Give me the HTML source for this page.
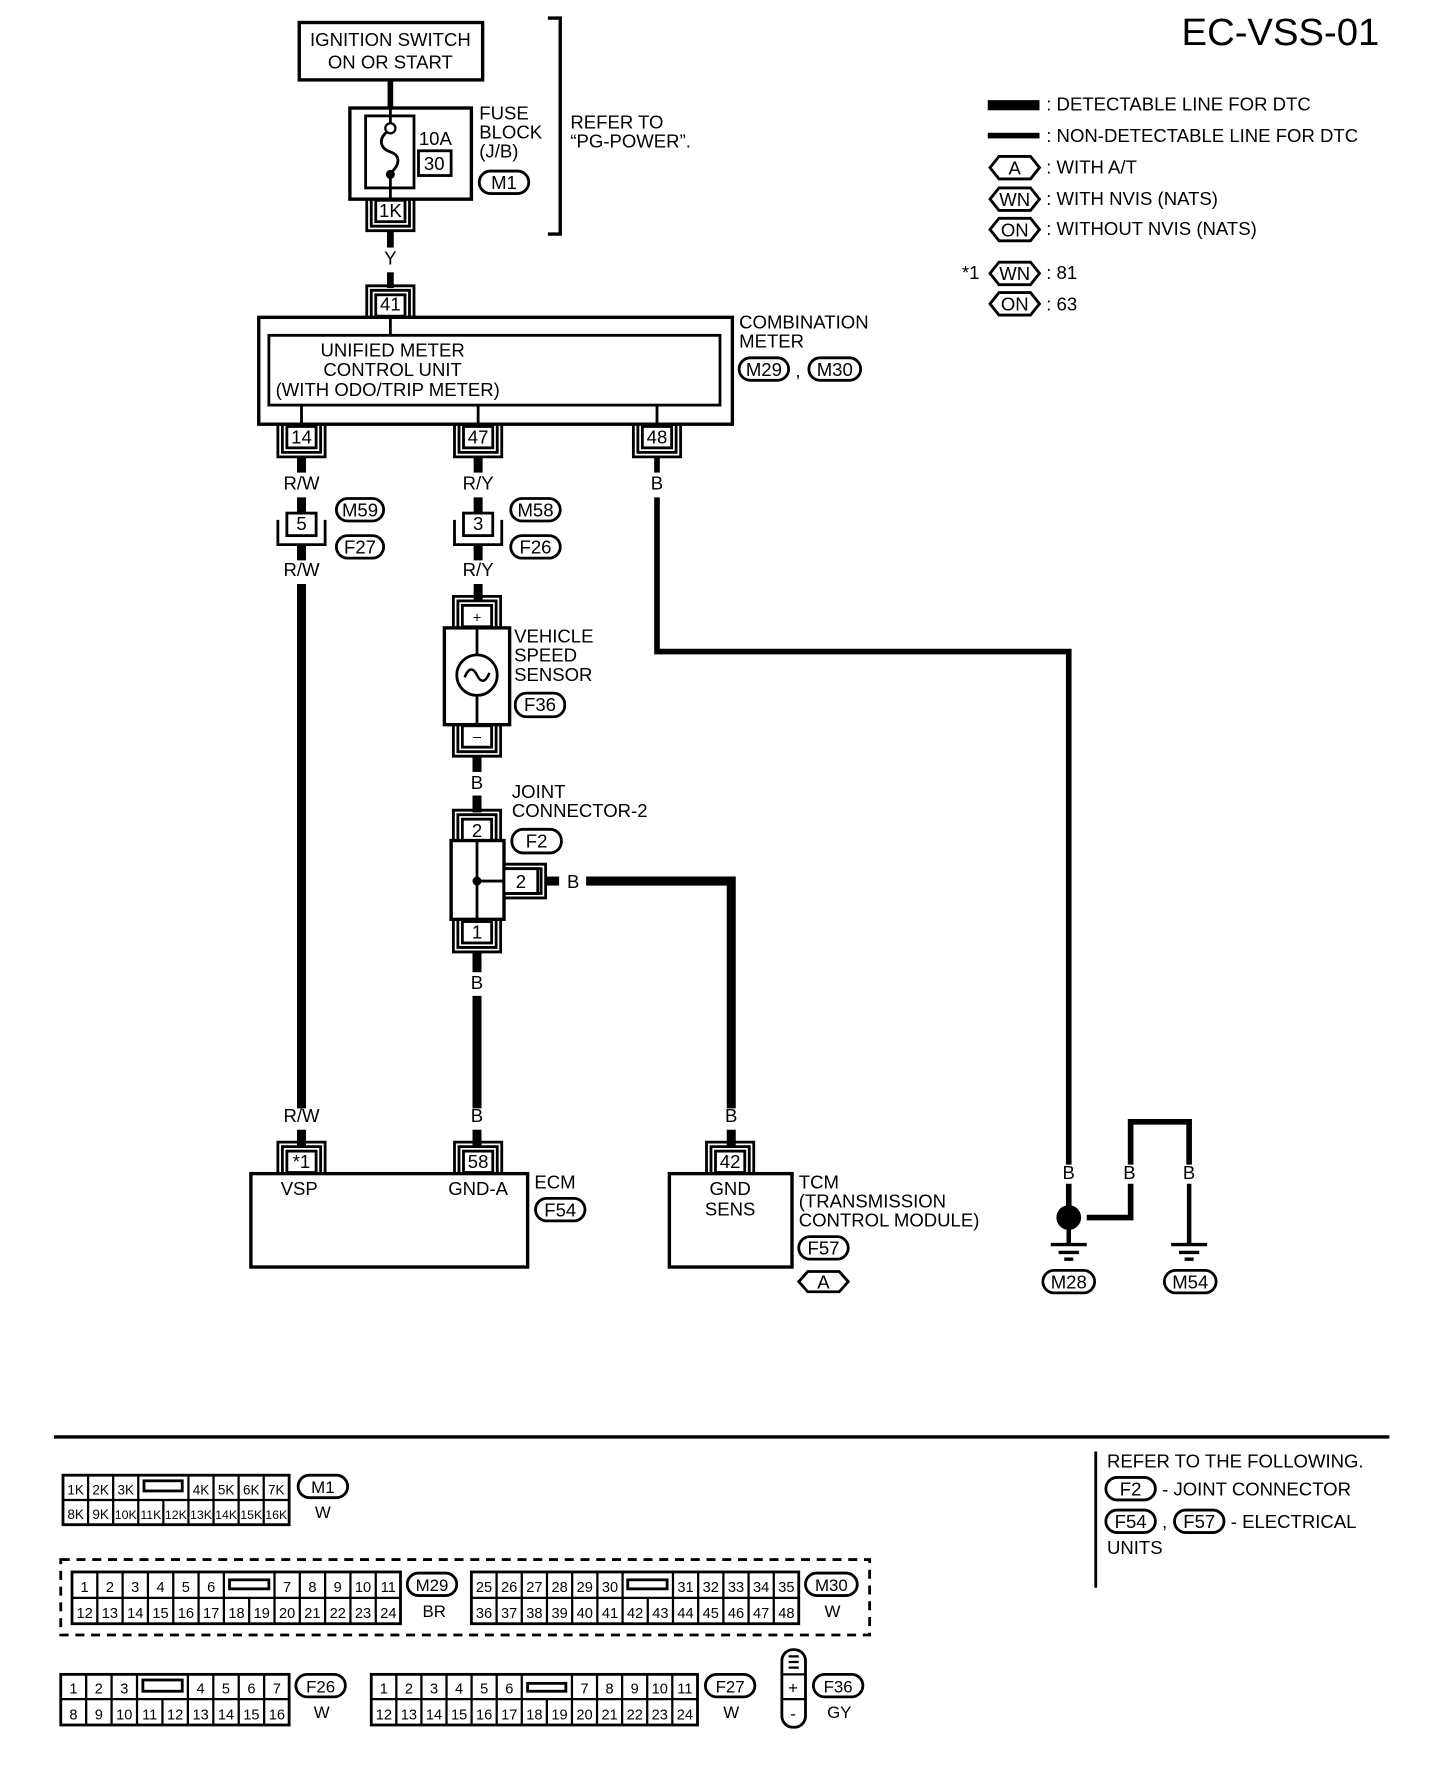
<!DOCTYPE html>
<html><head><meta charset="utf-8"><style>
html,body{margin:0;padding:0;background:#fff;}
svg{display:block;}
text{font-family:"Liberation Sans",sans-serif;fill:#000;}
</style></head><body>
<svg width="1440" height="1770" viewBox="0 0 1280 1573" preserveAspectRatio="none" xmlns="http://www.w3.org/2000/svg">
<defs>
<g id="cd"><path d="M-21 0V28H21V0M-17 0V24H17V0" fill="none" stroke="#000" stroke-width="2.5"/><rect x="-13" y="1" width="26" height="19" fill="#fff" stroke="#000" stroke-width="2.5"/></g>
<g id="cu"><path d="M-21 0V-28H21V0M-17 0V-24H17V0" fill="none" stroke="#000" stroke-width="2.5"/><rect x="-13" y="-20" width="26" height="19" fill="#fff" stroke="#000" stroke-width="2.5"/></g>
</defs>
<g font-size="16.5" text-anchor="middle">
<text x="1226" y="40" font-size="34" text-anchor="end">EC-VSS-01</text>

<!-- ignition -->
<rect x="266" y="20" width="163" height="51" fill="none" stroke="#000" stroke-width="3"/>
<text x="347" y="41">IGNITION SWITCH</text>
<text x="347" y="61">ON OR START</text>
<line x1="347" y1="71" x2="347" y2="96" stroke="#000" stroke-width="5"/>
<rect x="311" y="96" width="108" height="81" fill="none" stroke="#000" stroke-width="3"/>
<rect x="325" y="103" width="43" height="64" fill="none" stroke="#000" stroke-width="2.5"/>
<line x1="347" y1="96" x2="347" y2="109" stroke="#000" stroke-width="2.5"/>
<circle cx="347" cy="114" r="4.5" fill="#fff" stroke="#000" stroke-width="2"/>
<path d="M344 117C336 124 338 132 347 135C356 138 356 146 347 154" fill="none" stroke="#000" stroke-width="2.5"/>
<circle cx="347" cy="155" r="4" fill="#000"/>
<line x1="347" y1="155" x2="347" y2="177" stroke="#000" stroke-width="2.5"/>
<text x="387" y="129">10A</text>
<rect x="372" y="134" width="29" height="22" fill="none" stroke="#000" stroke-width="2.5"/>
<text x="386" y="151">30</text>
<g text-anchor="start"><text x="426" y="106">FUSE</text><text x="426" y="123">BLOCK</text><text x="426" y="140">(J/B)</text>
<text x="507" y="114">REFER TO</text><text x="507" y="131">“PG-POWER”.</text></g>
<rect x="426" y="152" width="44" height="20" rx="10" fill="none" stroke="#000" stroke-width="2.5"/><text x="448" y="168">M1</text>
<path d="M487 16H498V208H487" fill="none" stroke="#000" stroke-width="3"/>
<use href="#cd" x="347" y="177"/><text x="347" y="193">1K</text>
<line x1="347" y1="205" x2="347" y2="220" stroke="#000" stroke-width="6"/>
<text x="347" y="235">Y</text>
<line x1="347" y1="242" x2="347" y2="256" stroke="#000" stroke-width="6"/>
<use href="#cu" x="347" y="282"/><text x="347" y="276">41</text>

<!-- combination meter -->
<rect x="230" y="282" width="421" height="95" fill="none" stroke="#000" stroke-width="3"/>
<rect x="239" y="298" width="401" height="62" fill="none" stroke="#000" stroke-width="2.5"/>
<path d="M347 282V298M268 360V377M425 360V377M584 360V377" stroke="#000" stroke-width="2.5"/>
<text x="349" y="317">UNIFIED METER</text>
<text x="349" y="334">CONTROL UNIT</text>
<text x="245" y="352" text-anchor="start">(WITH ODO/TRIP METER)</text>
<g text-anchor="start"><text x="657" y="292">COMBINATION</text><text x="657" y="309">METER</text><text x="707" y="335">,</text></g>
<rect x="657" y="318" width="44" height="20" rx="10" fill="none" stroke="#000" stroke-width="2.5"/><text x="679" y="334">M29</text>
<rect x="719" y="318" width="46" height="20" rx="10" fill="none" stroke="#000" stroke-width="2.5"/><text x="742" y="334">M30</text>
<use href="#cd" x="268" y="378"/><text x="268" y="394">14</text>
<use href="#cd" x="425" y="378"/><text x="425" y="394">47</text>
<use href="#cd" x="584" y="378"/><text x="584" y="394">48</text>

<!-- 14 path -->
<line x1="268" y1="406" x2="268" y2="420" stroke="#000" stroke-width="8"/>
<text x="268" y="435">R/W</text>
<line x1="268" y1="442" x2="268" y2="457" stroke="#000" stroke-width="8"/>
<path d="M247 462V484H289V462" fill="none" stroke="#000" stroke-width="2.5"/>
<rect x="255" y="456" width="26" height="20" fill="#fff" stroke="#000" stroke-width="2.5"/><text x="268" y="471">5</text>
<rect x="299" y="443" width="42" height="20" rx="10" fill="none" stroke="#000" stroke-width="2.5"/><text x="320" y="459">M59</text>
<rect x="299" y="476" width="42" height="20" rx="10" fill="none" stroke="#000" stroke-width="2.5"/><text x="320" y="492">F27</text>
<line x1="268" y1="484" x2="268" y2="498" stroke="#000" stroke-width="8"/>
<text x="268" y="512">R/W</text>
<line x1="268" y1="519" x2="268" y2="985" stroke="#000" stroke-width="8"/>
<text x="268" y="997">R/W</text>
<line x1="268" y1="1004" x2="268" y2="1018" stroke="#000" stroke-width="8"/>

<!-- 47 path -->
<line x1="425" y1="406" x2="425" y2="420" stroke="#000" stroke-width="8"/>
<text x="425" y="435">R/Y</text>
<line x1="425" y1="442" x2="425" y2="457" stroke="#000" stroke-width="8"/>
<path d="M404 462V484H446V462" fill="none" stroke="#000" stroke-width="2.5"/>
<rect x="412" y="456" width="26" height="20" fill="#fff" stroke="#000" stroke-width="2.5"/><text x="425" y="471">3</text>
<rect x="454" y="443" width="44" height="20" rx="10" fill="none" stroke="#000" stroke-width="2.5"/><text x="476" y="459">M58</text>
<rect x="454" y="476" width="44" height="20" rx="10" fill="none" stroke="#000" stroke-width="2.5"/><text x="476" y="492">F26</text>
<line x1="425" y1="484" x2="425" y2="498" stroke="#000" stroke-width="8"/>
<text x="425" y="512">R/Y</text>
<line x1="425" y1="519" x2="425" y2="533" stroke="#000" stroke-width="8"/>
<use href="#cu" x="424" y="558"/><text x="424" y="553" font-size="13">+</text>
<rect x="395" y="558" width="58" height="86" fill="#fff" stroke="#000" stroke-width="3"/>
<path d="M424 558V582M424 618V644" stroke="#000" stroke-width="2.5"/>
<circle cx="424" cy="600" r="18" fill="none" stroke="#000" stroke-width="2.5"/>
<path d="M413 602C417 592 421 594 424 600C427 606 431 608 435 598" fill="none" stroke="#000" stroke-width="2.2"/>
<use href="#cd" x="424" y="644"/><text x="424" y="659" font-size="13">–</text>
<g text-anchor="start"><text x="457" y="571">VEHICLE</text><text x="457" y="588">SPEED</text><text x="457" y="605">SENSOR</text>
<text x="455" y="709">JOINT</text><text x="455" y="726">CONNECTOR-2</text>
<text x="504" y="789">B</text></g>
<rect x="458" y="616" width="44" height="21" rx="10" fill="none" stroke="#000" stroke-width="2.5"/><text x="480" y="632">F36</text>
<line x1="424" y1="672" x2="424" y2="686" stroke="#000" stroke-width="8"/>
<text x="424" y="701">B</text>
<line x1="424" y1="707" x2="424" y2="722" stroke="#000" stroke-width="8"/>
<use href="#cu" x="424" y="748"/><text x="424" y="744">2</text>
<rect x="401" y="747" width="47" height="70" fill="#fff" stroke="#000" stroke-width="3"/>
<path d="M424 747V817M424 783H448" stroke="#000" stroke-width="2.5"/>
<circle cx="424" cy="783" r="4" fill="#000"/>
<path d="M448 768H485V798H448M448 772H481V794H448" fill="none" stroke="#000" stroke-width="2.5"/>
<rect x="448" y="772" width="30" height="22" fill="#fff" stroke="#000" stroke-width="2.5"/><text x="463" y="789">2</text>
<line x1="485" y1="783" x2="497" y2="783" stroke="#000" stroke-width="8"/>
<rect x="455" y="737" width="44" height="21" rx="10" fill="none" stroke="#000" stroke-width="2.5"/><text x="477" y="753">F2</text>
<path d="M521 783H650V985" fill="none" stroke="#000" stroke-width="8"/>
<use href="#cd" x="424" y="818"/><text x="424" y="834">1</text>
<line x1="424" y1="846" x2="424" y2="864" stroke="#000" stroke-width="8"/>
<text x="424" y="879">B</text>
<line x1="424" y1="885" x2="424" y2="985" stroke="#000" stroke-width="8"/>
<text x="424" y="997">B</text>
<line x1="424" y1="1004" x2="424" y2="1018" stroke="#000" stroke-width="8"/>
<text x="650" y="997">B</text>
<line x1="650" y1="1004" x2="650" y2="1018" stroke="#000" stroke-width="8"/>

<!-- 48 path -->
<line x1="584" y1="406" x2="584" y2="420" stroke="#000" stroke-width="5"/>
<text x="584" y="435">B</text>
<path d="M584 442V579H950V1035" fill="none" stroke="#000" stroke-width="5"/>

<!-- ECM -->
<rect x="223" y="1043" width="246" height="83" fill="none" stroke="#000" stroke-width="3"/>
<use href="#cu" x="268" y="1043"/><text x="268" y="1038">*1</text>
<use href="#cu" x="425" y="1043"/><text x="425" y="1038">58</text>
<text x="266" y="1062">VSP</text><text x="425" y="1062">GND-A</text>
<text x="475" y="1056" text-anchor="start">ECM</text>
<rect x="476" y="1065" width="44" height="20" rx="10" fill="none" stroke="#000" stroke-width="2.5"/><text x="498" y="1081">F54</text>
<!-- TCM -->
<rect x="595" y="1043" width="109" height="83" fill="none" stroke="#000" stroke-width="3"/>
<use href="#cu" x="649" y="1043"/><text x="649" y="1038">42</text>
<text x="649" y="1062">GND</text><text x="649" y="1080">SENS</text>
<g text-anchor="start"><text x="710" y="1056">TCM</text><text x="710" y="1073">(TRANSMISSION</text><text x="710" y="1090">CONTROL MODULE)</text></g>
<rect x="710" y="1099" width="44" height="20" rx="10" fill="none" stroke="#000" stroke-width="2.5"/><text x="732" y="1115">F57</text>
<path d="M718 1130H746L754 1139L746 1148H718L710 1139Z" fill="none" stroke="#000" stroke-width="2.5"/><text x="732" y="1145">A</text>

<!-- grounds -->
<text x="950" y="1048">B</text><text x="1004" y="1048">B</text><text x="1057" y="1048">B</text>
<line x1="950" y1="1052" x2="950" y2="1072" stroke="#000" stroke-width="5"/>
<circle cx="950" cy="1082" r="11" fill="#000"/>
<path d="M966 1082H1005V1052" fill="none" stroke="#000" stroke-width="5"/>
<path d="M1005 1035V997H1057V1035" fill="none" stroke="#000" stroke-width="5"/>
<line x1="1057" y1="1052" x2="1057" y2="1105" stroke="#000" stroke-width="4"/>
<line x1="950" y1="1092" x2="950" y2="1105" stroke="#000" stroke-width="4"/>
<path d="M934 1106H966M941 1113H959M946 1119H954" stroke="#000" stroke-width="3"/>
<path d="M1041 1106H1073M1048 1113H1066M1053 1119H1061" stroke="#000" stroke-width="3"/>
<rect x="927" y="1129" width="46" height="20" rx="10" fill="none" stroke="#000" stroke-width="2.5"/><text x="950" y="1145">M28</text>
<rect x="1035" y="1129" width="46" height="20" rx="10" fill="none" stroke="#000" stroke-width="2.5"/><text x="1058" y="1145">M54</text>

<!-- legend -->
<rect x="878" y="89" width="46" height="9" fill="#000"/>
<rect x="878" y="118" width="46" height="5" fill="#000"/>
<g text-anchor="start"><text x="930" y="98">: DETECTABLE LINE FOR DTC</text>
<text x="930" y="126">: NON-DETECTABLE LINE FOR DTC</text>
<text x="930" y="154">: WITH A/T</text>
<text x="930" y="182">: WITH NVIS (NATS)</text>
<text x="930" y="209">: WITHOUT NVIS (NATS)</text>
<text x="855" y="248">*1</text>
<text x="930" y="248">: 81</text>
<text x="930" y="276">: 63</text></g>
<path d="M888 139H916L924 149L916 159H888L880 149Z" fill="none" stroke="#000" stroke-width="2.5"/><text x="902" y="155">A</text>
<path d="M888 167H916L924 177L916 187H888L880 177Z" fill="none" stroke="#000" stroke-width="2.5"/><text x="902" y="183">WN</text>
<path d="M888 194H916L924 204L916 214H888L880 204Z" fill="none" stroke="#000" stroke-width="2.5"/><text x="902" y="210">ON</text>
<path d="M888 233H916L924 243L916 253H888L880 243Z" fill="none" stroke="#000" stroke-width="2.5"/><text x="902" y="249">WN</text>
<path d="M888 260H916L924 270L916 280H888L880 270Z" fill="none" stroke="#000" stroke-width="2.5"/><text x="902" y="276">ON</text>

<!-- bottom -->
<line x1="48" y1="1277" x2="1235" y2="1277" stroke="#000" stroke-width="3"/>
<line x1="974" y1="1290" x2="974" y2="1411" stroke="#000" stroke-width="2.5"/>
<g text-anchor="start"><text x="984" y="1304">REFER TO THE FOLLOWING.</text>
<text x="1033" y="1329">- JOINT CONNECTOR</text>
<text x="1033" y="1358">,</text><text x="1094" y="1358">- ELECTRICAL</text>
<text x="984" y="1381">UNITS</text></g>
<rect x="983" y="1313" width="44" height="20" rx="10" fill="none" stroke="#000" stroke-width="2.5"/><text x="1005" y="1329">F2</text>
<rect x="983" y="1342" width="44" height="20" rx="10" fill="none" stroke="#000" stroke-width="2.5"/><text x="1005" y="1358">F54</text>
<rect x="1044" y="1342" width="44" height="20" rx="10" fill="none" stroke="#000" stroke-width="2.5"/><text x="1066" y="1358">F57</text>
</g>

<g font-size="13" text-anchor="middle" stroke="#000" fill="none" stroke-width="2">
<!-- M1 -->
<rect x="56" y="1311" width="201" height="44" stroke-width="2.5"/>
<path d="M56 1333H257M78.3 1311V1355M100.6 1311V1355M122.9 1311V1355M167.5 1311V1355M189.8 1311V1355M212.1 1311V1355M234.4 1311V1355M145.2 1333V1355"/>
<rect x="128" y="1316" width="34" height="9" stroke-width="2.5"/>
<g stroke="none" fill="#000" font-size="12"><text x="67.2" y="1328">1K</text><text x="89.5" y="1328">2K</text><text x="111.8" y="1328">3K</text><text x="178.7" y="1328">4K</text><text x="201" y="1328">5K</text><text x="223.3" y="1328">6K</text><text x="245.6" y="1328">7K</text>
<text x="67.2" y="1350">8K</text><text x="89.5" y="1350">9K</text><text x="111.8" y="1350" font-size="11">10K</text><text x="134.1" y="1350" font-size="11">11K</text><text x="156.4" y="1350" font-size="11">12K</text><text x="178.7" y="1350" font-size="11">13K</text><text x="201" y="1350" font-size="11">14K</text><text x="223.3" y="1350" font-size="11">15K</text><text x="245.6" y="1350" font-size="11">16K</text></g>
<rect x="265" y="1311" width="44" height="20" rx="10" stroke-width="2.5"/>
<g stroke="none" fill="#000" font-size="15"><text x="287" y="1327">M1</text><text x="287" y="1349">W</text></g>

<rect x="54" y="1386" width="719" height="67" stroke-dasharray="8,6" stroke-width="2.5"/>
<!-- M29 -->
<rect x="64" y="1397" width="292" height="46" stroke-width="2.5"/>
<path d="M64 1420H356M86.5 1397V1443M109 1397V1443M131.5 1397V1443M154 1397V1443M176.5 1397V1443M199 1397V1443M244 1397V1443M266.5 1397V1443M289 1397V1443M311.5 1397V1443M334 1397V1443M221.5 1420V1443"/>
<rect x="204" y="1404" width="35" height="8" stroke-width="2.5"/>
<g stroke="none" fill="#000"><text x="75.2" y="1415">1</text><text x="97.7" y="1415">2</text><text x="120.2" y="1415">3</text><text x="142.7" y="1415">4</text><text x="165.2" y="1415">5</text><text x="187.7" y="1415">6</text><text x="255.2" y="1415">7</text><text x="277.7" y="1415">8</text><text x="300.2" y="1415">9</text><text x="322.7" y="1415">10</text><text x="345.2" y="1415">11</text>
<text x="75.2" y="1438">12</text><text x="97.7" y="1438">13</text><text x="120.2" y="1438">14</text><text x="142.7" y="1438">15</text><text x="165.2" y="1438">16</text><text x="187.7" y="1438">17</text><text x="210.2" y="1438">18</text><text x="232.7" y="1438">19</text><text x="255.2" y="1438">20</text><text x="277.7" y="1438">21</text><text x="300.2" y="1438">22</text><text x="322.7" y="1438">23</text><text x="345.2" y="1438">24</text></g>
<rect x="362" y="1398" width="44" height="20" rx="10" stroke-width="2.5"/>
<g stroke="none" fill="#000" font-size="15"><text x="384" y="1414">M29</text><text x="386" y="1437">BR</text></g>
<!-- M30 -->
<rect x="419" y="1397" width="291" height="46" stroke-width="2.5"/>
<path d="M419 1420H710M441.4 1397V1443M463.8 1397V1443M486.2 1397V1443M508.6 1397V1443M531 1397V1443M553.4 1397V1443M598.2 1397V1443M620.6 1397V1443M643 1397V1443M665.4 1397V1443M687.8 1397V1443M575.8 1420V1443"/>
<rect x="558" y="1404" width="35" height="8" stroke-width="2.5"/>
<g stroke="none" fill="#000"><text x="430.2" y="1415">25</text><text x="452.6" y="1415">26</text><text x="475" y="1415">27</text><text x="497.4" y="1415">28</text><text x="519.8" y="1415">29</text><text x="542.2" y="1415">30</text><text x="609.4" y="1415">31</text><text x="631.8" y="1415">32</text><text x="654.2" y="1415">33</text><text x="676.6" y="1415">34</text><text x="699" y="1415">35</text>
<text x="430.2" y="1438">36</text><text x="452.6" y="1438">37</text><text x="475" y="1438">38</text><text x="497.4" y="1438">39</text><text x="519.8" y="1438">40</text><text x="542.2" y="1438">41</text><text x="564.6" y="1438">42</text><text x="587" y="1438">43</text><text x="609.4" y="1438">44</text><text x="631.8" y="1438">45</text><text x="654.2" y="1438">46</text><text x="676.6" y="1438">47</text><text x="699" y="1438">48</text></g>
<rect x="716" y="1398" width="46" height="20" rx="10" stroke-width="2.5"/>
<g stroke="none" fill="#000" font-size="15"><text x="739" y="1414">M30</text><text x="740" y="1437">W</text></g>

<!-- F26 -->
<rect x="54" y="1488" width="203" height="45" stroke-width="2.5"/>
<path d="M54 1510H257M76.6 1488V1533M99.2 1488V1533M121.8 1488V1533M167 1488V1533M189.6 1488V1533M212.2 1488V1533M234.8 1488V1533M144.4 1510V1533"/>
<rect x="127" y="1493" width="35" height="10" stroke-width="2.5"/>
<g stroke="none" fill="#000"><text x="65.3" y="1505">1</text><text x="87.9" y="1505">2</text><text x="110.5" y="1505">3</text><text x="178.3" y="1505">4</text><text x="200.9" y="1505">5</text><text x="223.5" y="1505">6</text><text x="246.1" y="1505">7</text>
<text x="65.3" y="1528">8</text><text x="87.9" y="1528">9</text><text x="110.5" y="1528">10</text><text x="133.1" y="1528">11</text><text x="155.7" y="1528">12</text><text x="178.3" y="1528">13</text><text x="200.9" y="1528">14</text><text x="223.5" y="1528">15</text><text x="246.1" y="1528">16</text></g>
<rect x="263" y="1488" width="44" height="20" rx="10" stroke-width="2.5"/>
<g stroke="none" fill="#000" font-size="15"><text x="285" y="1504">F26</text><text x="286" y="1527">W</text></g>
<!-- F27 -->
<rect x="330" y="1488" width="290" height="45" stroke-width="2.5"/>
<path d="M330 1510H620M352.3 1488V1533M374.6 1488V1533M396.9 1488V1533M419.2 1488V1533M441.5 1488V1533M463.8 1488V1533M508.4 1488V1533M530.7 1488V1533M553 1488V1533M575.3 1488V1533M597.6 1488V1533M486.1 1510V1533"/>
<rect x="469" y="1496" width="34" height="7" stroke-width="2.5"/>
<g stroke="none" fill="#000"><text x="341.2" y="1505">1</text><text x="363.5" y="1505">2</text><text x="385.8" y="1505">3</text><text x="408.1" y="1505">4</text><text x="430.4" y="1505">5</text><text x="452.7" y="1505">6</text><text x="519.6" y="1505">7</text><text x="541.9" y="1505">8</text><text x="564.2" y="1505">9</text><text x="586.5" y="1505">10</text><text x="608.8" y="1505">11</text>
<text x="341.2" y="1528">12</text><text x="363.5" y="1528">13</text><text x="385.8" y="1528">14</text><text x="408.1" y="1528">15</text><text x="430.4" y="1528">16</text><text x="452.7" y="1528">17</text><text x="475" y="1528">18</text><text x="497.3" y="1528">19</text><text x="519.6" y="1528">20</text><text x="541.9" y="1528">21</text><text x="564.2" y="1528">22</text><text x="586.5" y="1528">23</text><text x="608.8" y="1528">24</text></g>
<rect x="627" y="1488" width="44" height="20" rx="10" stroke-width="2.5"/>
<g stroke="none" fill="#000" font-size="15"><text x="649" y="1504">F27</text><text x="650" y="1527">W</text></g>
<!-- F36 -->
<rect x="695" y="1466" width="21" height="69" rx="10" stroke-width="2.5"/>
<path d="M695 1488H716M695 1510H716M701 1472H710M701 1477H710M701 1482H710" stroke-width="2"/>
<g stroke="none" fill="#000" font-size="15"><text x="705" y="1505">+</text><text x="705" y="1528">-</text></g>
<rect x="723" y="1488" width="44" height="20" rx="10" stroke-width="2.5"/>
<g stroke="none" fill="#000" font-size="15"><text x="745" y="1504">F36</text><text x="746" y="1527">GY</text></g>
</g>
</svg>
</body></html>
